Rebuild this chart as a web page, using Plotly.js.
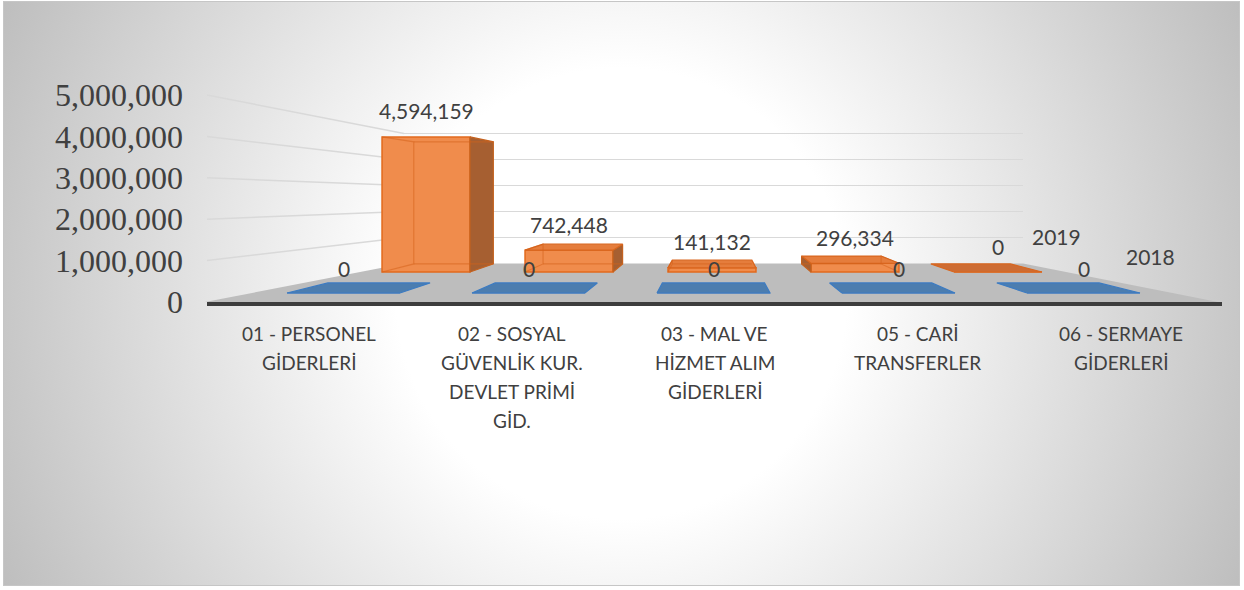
<!DOCTYPE html>
<html><head><meta charset="utf-8">
<script src="https://cdn.plot.ly/plotly-3.0.1.min.js"></script>
<style>
html,body{margin:0;padding:0;background:#fff;}
#frame{position:absolute;left:3px;top:1px;width:1235px;height:583px;border:1px solid #c6c6c6;
background:radial-gradient(circle farthest-corner at 50% 50%, #ffffff 0%, #ffffff 33%, #bebebe 100%);}
#chart{position:absolute;left:0;top:0;width:1244px;height:590px;}
</style></head><body>
<div id="frame"></div><div id="chart"></div>
<script>
// ---- data ----
const categories = ['01 - PERSONEL<br>GİDERLERİ',
  '02 - SOSYAL<br>GÜVENLİK KUR.<br>DEVLET PRİMİ<br>GİD.',
  '03 - MAL VE<br>HİZMET ALIM<br>GİDERLERİ',
  '05 - CARİ<br>TRANSFERLER',
  '06 - SERMAYE<br>GİDERLERİ'];
const seriesNames = ['2019', '2018'];
const values2019 = [4594159, 742448, 141132, 296334, 0];
const values2018 = [0, 0, 0, 0, 0];
const yTicks = [0, 1000000, 2000000, 3000000, 4000000, 5000000];

// ---- layout helpers ----
const W = 1244, H = 590;
const FONT = 'Lato, "Open Sans", sans-serif';
const SERIF = '"Liberation Serif", "Times New Roman", serif';
const TXT = '#404040';
const fmt = v => v.toLocaleString('en-US');
const idx = categories.map((_, i) => i);

// perspective of the 3-D scene (pixel space)
const VX = 713, VY = 188, S = 0.904;
const proj = (px, py) => [VX + (px - VX) * S, VY + (py - VY) * S];
const BACK = {cx0: 426, dx: 143, y0: 272, k: 29.4e-6, half: 44};
const FRONT = {cx0: 343.5, dx: 185, y0: 293, k: 32.5e-6, half: 56.5};
const AREA = {l: 5, r: 1235, t: 40, b: 330};
function axesFor(R) {
  return [
    {domain: [AREA.l / W, AREA.r / W], range: [(AREA.l - R.cx0) / R.dx, (AREA.r - R.cx0) / R.dx], visible: false, fixedrange: true},
    {domain: [1 - AREA.b / H, 1 - AREA.t / H], range: [(R.y0 - AREA.b) / R.k, (R.y0 - AREA.t) / R.k], visible: false, fixedrange: true}
  ];
}
const dX = (R, px) => (px - R.cx0) / R.dx;
const dY = (R, py) => (R.y0 - py) / R.k;
function poly(R, pts, xa, ya, fill, line, lw, closed) {
  const xs = pts.map(p => dX(R, p[0])), ys = pts.map(p => dY(R, p[1]));
  if (closed) { xs.push(xs[0]); ys.push(ys[0]); }
  const t = {type: 'scatter', mode: 'lines', x: xs, y: ys, xaxis: xa, yaxis: ya,
    line: {color: line, width: lw}, hoverinfo: 'skip', showlegend: false};
  if (fill) { t.fill = 'toself'; t.fillcolor = fill; }
  return t;
}

const traces = [];
// back wall subplot (gridlines only)
traces.push({type: 'scatter', x: [0], y: [0], mode: 'markers', marker: {opacity: 0}, xaxis: 'x', yaxis: 'y', hoverinfo: 'skip', showlegend: false});
// value axis subplot
traces.push({type: 'scatter', x: [0], y: [0], mode: 'markers', marker: {opacity: 0}, xaxis: 'x2', yaxis: 'y2', hoverinfo: 'skip', showlegend: false});

// 2019 row (back)
values2019.forEach((v, i) => {
  const R = BACK, cx = R.cx0 + R.dx * i, L = cx - R.half, Rr = cx + R.half;
  const T = R.y0 - v * R.k, B = R.y0;
  const [lx, ty] = proj(L, T), [rx] = proj(Rr, T), [, by] = proj(L, B);
  const BLT = [lx, ty], BRT = [rx, ty], BLB = [lx, by], BRB = [rx, by];
  if (v > 0) {
    if (Rr < VX) traces.push(poly(R, [[Rr, T], BRT, BRB, [Rr, B]], 'x3', 'y3', '#A65F31', '#C4621F', 1.2, true));
    else if (L > VX) traces.push(poly(R, [[L, T], BLT, BLB, [L, B]], 'x3', 'y3', '#A65F31', '#C4621F', 1.2, true));
  }
  if (T > VY) traces.push(poly(R, [[L, T], [Rr, T], BRT, BLT], 'x3', 'y3', v > 0 ? '#E57D3C' : '#CD6C33', '#D9661E', 1.2, true));
});
traces.push({type: 'bar', name: seriesNames[0], x: idx, y: values2019, xaxis: 'x3', yaxis: 'y3', width: 0.615,
  marker: {color: '#F08C4C', line: {color: '#E2691C', width: 1.5}}, hoverinfo: 'skip', showlegend: false});
// hidden edges seen through the transparent bars
values2019.forEach((v, i) => {
  if (v <= 0) return;
  const R = BACK, cx = R.cx0 + R.dx * i, L = cx - R.half, Rr = cx + R.half;
  const T = R.y0 - v * R.k, B = R.y0;
  const [lx, ty] = proj(L, T), [rx] = proj(Rr, T), [, by] = proj(L, B);
  const X = cx < VX ? L : Rr, bx = cx < VX ? lx : rx;
  traces.push(poly(R, [[X, T], [bx, ty], [bx, by], [X, B]], 'x3', 'y3', null, 'rgba(214,98,28,0.55)', 1.2, false));
  traces.push(poly(R, [[lx, by], [rx, by]], 'x3', 'y3', null, 'rgba(214,98,28,0.55)', 1.2, false));
  if (T < VY) traces.push(poly(R, [[lx, ty], [rx, ty]], 'x3', 'y3', null, 'rgba(214,98,28,0.55)', 1.2, false));
});

// 2018 row (front)
values2018.forEach((v, i) => {
  const R = FRONT, cx = R.cx0 + R.dx * i, L = cx - R.half, Rr = cx + R.half;
  const T = R.y0 - v * R.k;
  const [lx, ty] = proj(L, T), [rx] = proj(Rr, T);
  traces.push(poly(R, [[L, T], [Rr, T], [rx, ty], [lx, ty]], 'x4', 'y4', '#4C7DAF', '#3C7BC2', 1.2, true));
});
traces.push({type: 'bar', name: seriesNames[1], x: idx, y: values2018, xaxis: 'x4', yaxis: 'y4', width: 0.611,
  marker: {color: '#4C7DAF', line: {color: '#3C7BC2', width: 1.2}}, hoverinfo: 'skip', showlegend: false});

// ---- decorations: floor & side wall lines ----
const px = x => x / W, py = y => 1 - y / H;
const FLOOR = [[205, 302], [404, 263.5], [1023, 263.5], [1218, 302]];
const Y1 = t => 302 - t * 41.4e-6;   // value-axis scale at the front-left edge
const Y0 = t => 263.5 - t * 26e-6;   // value scale on the back wall
const shapes = [{type: 'path', xref: 'paper', yref: 'paper', layer: 'below',
  path: 'M' + FLOOR.map(p => px(p[0]) + ',' + py(p[1])).join(' L') + ' Z',
  fillcolor: '#bdbdbd', line: {width: 0}}];
yTicks.filter(t => t > 0).forEach(t => shapes.push({type: 'line', xref: 'paper', yref: 'paper', layer: 'below',
  x0: px(207), y0: py(Y1(t)), x1: px(404), y1: py(Y0(t)), line: {color: '#d9d9d9', width: 1.5}}));

// ---- annotations ----
const annotations = [];
categories.forEach((c, i) => c.split('<br>').forEach((ln, k) => annotations.push({
  xref: 'x2', yref: 'paper', x: i, y: py(333 + 29 * k), text: ln, showarrow: false,
  xanchor: 'center', yanchor: 'middle', font: {family: FONT, size: 19, color: TXT}})));
values2019.forEach((v, i) => annotations.push({xref: 'x3', yref: 'y3', x: i, y: v, yshift: 26, text: fmt(v),
  showarrow: false, yanchor: 'middle', font: {family: FONT, size: 21, color: TXT}}));
values2018.forEach((v, i) => annotations.push({xref: 'x4', yref: 'y4', x: i, y: v, yshift: 25, text: fmt(v),
  showarrow: false, yanchor: 'middle', font: {family: FONT, size: 21, color: TXT}}));
annotations.push({xref: 'x3', yref: 'y3', x: categories.length - 1 + 0.41, y: 0, yshift: 36, text: seriesNames[0],
  showarrow: false, yanchor: 'middle', font: {family: FONT, size: 21, color: TXT}});
annotations.push({xref: 'x4', yref: 'y4', x: categories.length - 1 + 0.36, y: 0, yshift: 37, text: seriesNames[1],
  showarrow: false, yanchor: 'middle', font: {family: FONT, size: 21, color: TXT}});

const [bx, by] = axesFor(BACK), [fx, fy] = axesFor(FRONT);
const layout = {
  width: W, height: H, autosize: false, margin: {l: 0, r: 0, t: 0, b: 0},
  paper_bgcolor: 'rgba(0,0,0,0)', plot_bgcolor: 'rgba(0,0,0,0)', showlegend: false,
  xaxis: {domain: [px(404), px(1023)], range: [0, 1], visible: false, fixedrange: true},
  yaxis: {domain: [py(263.5), py(40)], range: [0, 223.5 / 26e-6], tickvals: yTicks.slice(1), showticklabels: false,
    showgrid: true, gridcolor: '#d9d9d9', gridwidth: 1.5, zeroline: false, showline: false, ticks: '', fixedrange: true},
  xaxis2: {domain: [px(207), px(1222)], range: [-0.5, categories.length - 0.5], anchor: 'y2', showticklabels: false,
    showgrid: false, zeroline: false, showline: true, linecolor: '#3d3d3d', linewidth: 3.5, ticks: '', fixedrange: true},
  yaxis2: {domain: [py(302), py(40)], range: [0, 262 / 41.4e-6], anchor: 'x2', tickvals: yTicks, ticktext: yTicks.map(fmt),
    tickfont: {family: SERIF, size: 32, color: TXT}, showgrid: false, zeroline: false, showline: false, ticks: '',
    ticklabelstandoff: 23, fixedrange: true},
  xaxis3: Object.assign(bx, {anchor: 'y3'}), yaxis3: Object.assign(by, {anchor: 'x3'}),
  xaxis4: Object.assign(fx, {anchor: 'y4'}), yaxis4: Object.assign(fy, {anchor: 'x4'}),
  shapes, annotations, bargap: 0
};
Plotly.newPlot('chart', traces, layout, {staticPlot: true, displayModeBar: false});
</script></body></html>
